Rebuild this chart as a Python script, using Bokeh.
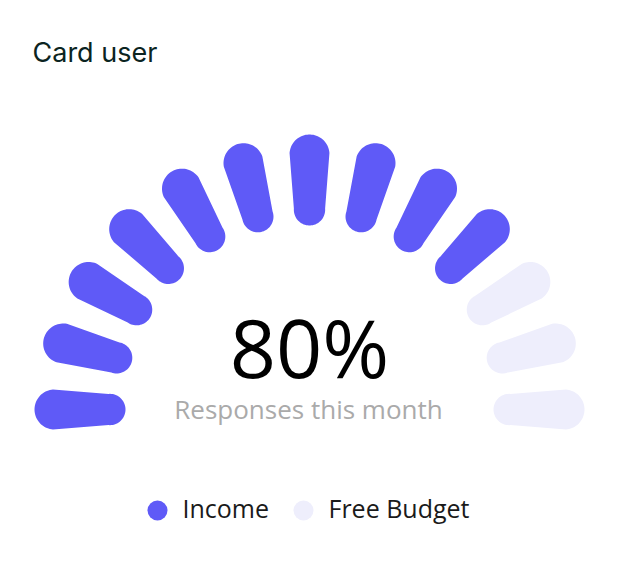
import numpy as np
from bokeh.plotting import figure
from bokeh.models import Range1d, Label, ColumnDataSource
from bokeh.embed import file_html
from bokeh.resources import INLINE

# ---- data ----
title_text = "Card user"
gauge_value = 80          # percent
gauge_max = 100
segment_count = 13
center_label = "80%"
sub_label = "Responses this month"
legend_labels = ["Income", "Free Budget"]

# ---- style ----
C_ON = "#5F5AF7"
C_OFF = "#EEEEFC"
W, H = 602, 545

p = figure(width=W, height=H, output_backend="svg", toolbar_location=None,
           x_range=Range1d(0, W), y_range=Range1d(H, 0), min_border=0)
p.axis.visible = False
p.grid.visible = False
p.outline_line_color = None
p.background_fill_color = "white"
p.border_fill_color = "white"

# gauge geometry (data units = pixels)
cx, cy = 309, 409
r_in, r_out = 184, 275
half_ang = np.deg2rad(4.5)
k = np.sin(half_ang)
d1 = r_in / (1 - k); a = d1 * k
d2 = r_out / (1 + k); b = d2 * k
L = d2 - d1
phi = np.arcsin((b - a) / L)
lim = np.pi / 2 - phi

n_on = int(segment_count * gauge_value / gauge_max)
xs, ys, cols = [], [], []
for i in range(segment_count):
    theta = np.pi - i * np.pi / (segment_count - 1)
    t2 = np.linspace(-lim, lim, 40)
    t1 = np.linspace(lim, 2 * np.pi - lim, 40)
    u = np.concatenate([d2 + b * np.cos(t2), d1 + a * np.cos(t1)])
    v = np.concatenate([b * np.sin(t2), a * np.sin(t1)])
    gx = u * np.cos(theta) - v * np.sin(theta)
    gy = u * np.sin(theta) + v * np.cos(theta)
    xs.append(list(cx + gx))
    ys.append(list(cy - gy))
    cols.append(C_ON if i < n_on else C_OFF)

p.patches(xs="xs", ys="ys", fill_color="cols", line_color=None,
          source=ColumnDataSource(dict(xs=xs, ys=ys, cols=cols)))

# texts
p.add_layout(Label(x=32, y=52, text=title_text, text_font="Inter",
                   text_font_size="27px", text_color="#0B2421",
                   text_baseline="alphabetic"))
p.add_layout(Label(x=309, y=346, text=center_label, text_font="Open Sans",
                   text_font_size="81px", text_color="#000000",
                   text_align="center", text_baseline="alphabetic"))
p.add_layout(Label(x=308, y=408, text=sub_label, text_font="Open Sans",
                   text_font_size="26px", text_color="#AAAAAA",
                   text_align="center", text_baseline="alphabetic"))

# legend
leg_x = [157, 303]
leg_y = [510, 510]
p.scatter(x=leg_x, y=leg_y, size=20, marker="circle",
          fill_color=[C_ON, C_OFF], line_color=None)
for lx, lab in zip([182, 328], legend_labels):
    p.add_layout(Label(x=lx, y=507, text=lab, text_font="Open Sans",
                       text_font_size="25px", text_color="#1A1A1A",
                       text_baseline="alphabetic"))

open("out.html", "w").write(file_html(p, INLINE))
